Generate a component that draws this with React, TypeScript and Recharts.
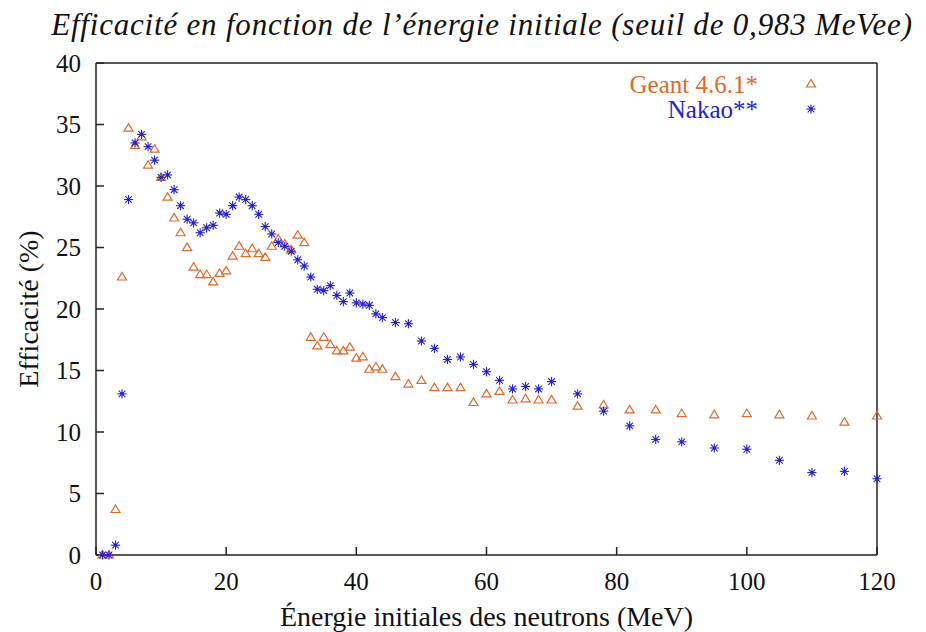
import React from "react"
import { Legend, Scatter, ScatterChart, XAxis, YAxis } from "recharts"

// énergie initiale des neutrons (MeV), commune aux deux séries
const energies = [
    1, 2, 3, 4, 5, 6, 7, 8, 9, 10, 11, 12, 13, 14, 15, 16, 17, 18, 19, 20, 21, 22,
    23, 24, 25, 26, 27, 28, 29, 30, 31, 32, 33, 34, 35, 36, 37, 38, 39, 40, 41, 42,
    43, 44, 46, 48, 50, 52, 54, 56, 58, 60, 62, 64, 66, 68, 70, 74, 78, 82, 86, 90,
    95, 100, 105, 110, 115, 120,
]

// efficacité (%)
const geant = [
    0, 0, 3.7, 22.6, 34.7, 33.3, 34.0, 31.7, 33.0, 30.7, 29.1, 27.4, 26.2, 25.0, 23.4, 22.8,
    22.8, 22.2, 22.9, 23.1, 24.3, 25.1, 24.5, 24.9, 24.5, 24.2, 25.1, 25.7, 25.3, 24.8, 26.0,
    25.4, 17.7, 17.0, 17.7, 17.1, 16.6, 16.6, 16.9, 16.0, 16.1, 15.1, 15.3, 15.1, 14.5, 13.9,
    14.2, 13.6, 13.6, 13.6, 12.4, 13.1, 13.3, 12.6, 12.7, 12.6, 12.6, 12.1, 12.2, 11.8, 11.8,
    11.5, 11.4, 11.5, 11.4, 11.3, 10.8, 11.3,
]

const nakao = [
    0, 0, 0.8, 13.1, 28.9, 33.5, 34.2, 33.2, 32.1, 30.7, 30.9, 29.7, 28.4, 27.3, 27.0, 26.2,
    26.6, 26.8, 27.8, 27.7, 28.4, 29.1, 28.9, 28.4, 27.7, 26.7, 26.1, 25.4, 25.1, 24.7, 24.0,
    23.5, 22.6, 21.6, 21.5, 21.9, 21.1, 20.6, 21.3, 20.5, 20.4, 20.3, 19.6, 19.3, 18.9, 18.8,
    17.4, 16.8, 15.9, 16.1, 15.5, 14.9, 14.2, 13.5, 13.7, 13.5, 14.1, 13.1, 11.7, 10.5, 9.4,
    9.2, 8.7, 8.6, 7.7, 6.7, 6.8, 6.2,
]

const xTicks = [0, 20, 40, 60, 80, 100, 120]
const yTicks = [0, 5, 10, 15, 20, 25, 30, 35, 40]

const geantData = energies.map((e, i) => ({ e, eff: geant[i] }))
const nakaoData = energies.map((e, i) => ({ e, eff: nakao[i] }))

const FONT = "'Liberation Serif', 'Times New Roman', serif"
const ORANGE = "#e0692c"
const BLUE = "#2323d2"
const AXIS = "#222"

const Triangle = ({ cx, cy }: any) => (
    <path
        d={`M${cx - 4.5},${cy + 3} L${cx + 4.5},${cy + 3} L${cx},${cy - 4.5} Z`}
        fill="none"
        stroke={ORANGE}
        strokeWidth={1.2}
    />
)

const Star = ({ cx, cy }: any) => {
    const r = 4.6
    const d = r * 0.72
    return (
        <g stroke={BLUE} strokeWidth={1.1}>
            <line x1={cx - r} y1={cy} x2={cx + r} y2={cy} />
            <line x1={cx} y1={cy - r} x2={cx} y2={cy + r} />
            <line x1={cx - d} y1={cy - d} x2={cx + d} y2={cy + d} />
            <line x1={cx - d} y1={cy + d} x2={cx + d} y2={cy - d} />
            <circle cx={cx} cy={cy} r={1.7} fill={BLUE} stroke="none" />
        </g>
    )
}

// légende posée dans le cadre, sans réserver de place sous le graphique
const renderLegend = (props: any) => {
    const { payload = [] } = props
    return (
        <div style={{ position: "relative", width: 926, height: 0, overflow: "visible", fontFamily: FONT, fontSize: 25 }}>
            {payload.map((entry: any, i: number) => (
                <div key={entry.value} style={{ position: "absolute", top: i * 24.5, left: 0, width: 926, height: 25 }}>
                    <span style={{ position: "absolute", right: 168, top: 0, lineHeight: "25px", color: entry.color, whiteSpace: "nowrap" }}>
                        {entry.value}
                    </span>
                    <svg width={14} height={14} style={{ position: "absolute", left: 804, top: 5 }}>
                        {i === 0 ? <Triangle cx={7} cy={7} /> : <Star cx={7} cy={7} />}
                    </svg>
                </div>
            ))}
        </div>
    )
}

export default function App() {
    return (
        <div style={{ position: "absolute", left: 0, top: 0, width: 926, height: 632, background: "#fff", fontFamily: FONT }}>
            <div
                style={{
                    position: "absolute",
                    left: 482,
                    top: 8,
                    transform: "translateX(-50%)",
                    fontSize: 31,
                    letterSpacing: 0.8,
                    fontStyle: "italic",
                    whiteSpace: "nowrap",
                    color: "#111",
                    lineHeight: "34px",
                }}
            >
                Efficacité en fonction de l’énergie initiale (seuil de 0,983 MeVee)
            </div>
            <ScatterChart width={926} height={632} margin={{ top: 33, right: 19, bottom: 0, left: 0 }}>
                <XAxis
                    xAxisId="bottom"
                    dataKey="e"
                    type="number"
                    domain={[0, 120]}
                    ticks={xTicks}
                    height={77}
                    stroke={AXIS}
                    strokeWidth={1.5}
                    tickSize={-8}
                    tickMargin={25}
                    tick={{ fill: "#111", fontSize: 25, fontFamily: FONT }}
                    label={{ value: "Énergie initiales des neutrons (MeV)", position: "insideBottom", offset: 6, fill: "#111", fontSize: 28, fontFamily: FONT }}
                />
                <XAxis
                    xAxisId="top"
                    orientation="top"
                    type="number"
                    domain={[0, 120]}
                    ticks={xTicks}
                    height={30}
                    stroke={AXIS}
                    strokeWidth={1.5}
                    tickSize={-8}
                    tick={false}
                />
                <YAxis
                    yAxisId="left"
                    dataKey="eff"
                    type="number"
                    domain={[0, 40]}
                    ticks={yTicks}
                    width={96}
                    stroke={AXIS}
                    strokeWidth={1.5}
                    tickSize={-8}
                    tickMargin={23}
                    tick={{ fill: "#111", fontSize: 25, fontFamily: FONT }}
                    label={{ value: "Efficacité (%)", angle: -90, position: "insideLeft", offset: 28, fill: "#111", fontSize: 28, fontFamily: FONT, style: { textAnchor: "middle" } }}
                />
                <YAxis
                    yAxisId="right"
                    orientation="right"
                    type="number"
                    domain={[0, 40]}
                    ticks={yTicks}
                    width={30}
                    stroke={AXIS}
                    strokeWidth={1.5}
                    tickSize={-8}
                    tick={false}
                />
                <Legend content={renderLegend} wrapperStyle={{ position: "absolute", left: 0, top: 72, width: 926, height: 0 }} />
                <Scatter
                    name="Geant 4.6.1*"
                    data={geantData}
                    xAxisId="bottom"
                    yAxisId="left"
                    fill={ORANGE}
                    shape={Triangle}
                    isAnimationActive={false}
                />
                <Scatter
                    name="Nakao**"
                    data={nakaoData}
                    xAxisId="bottom"
                    yAxisId="left"
                    fill={BLUE}
                    shape={Star}
                    isAnimationActive={false}
                />
            </ScatterChart>
        </div>
    )
}
